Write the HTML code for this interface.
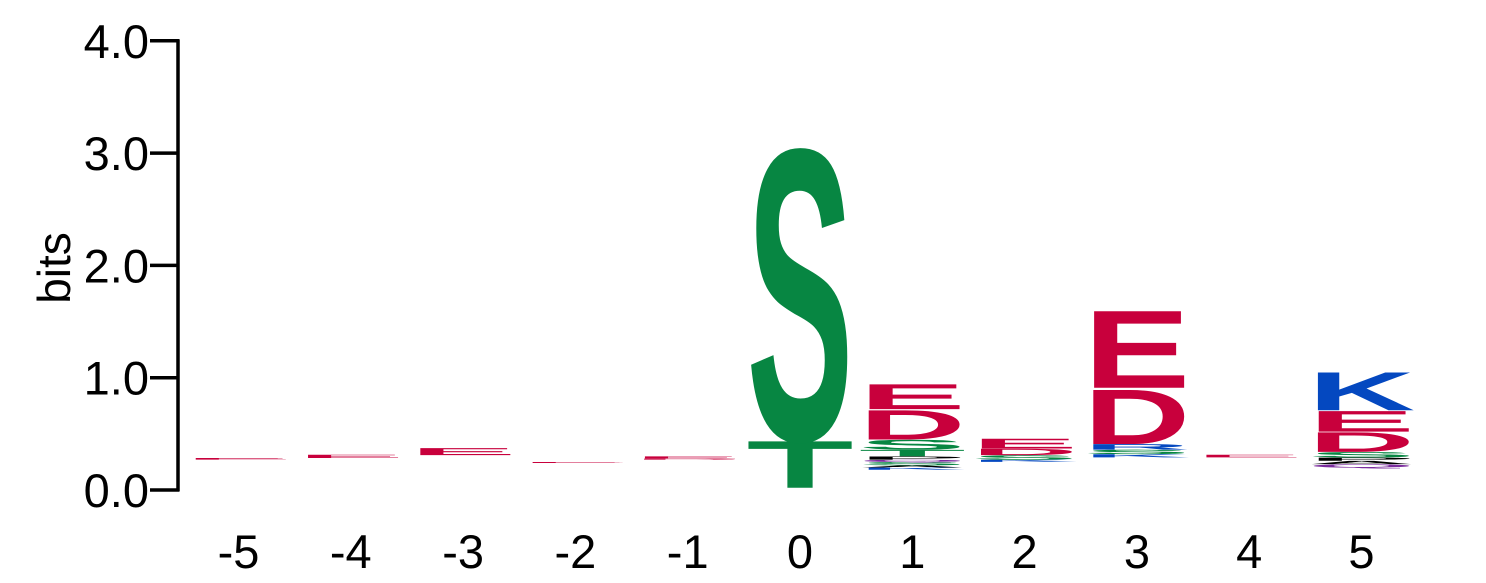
<!DOCTYPE html>
<html><head><meta charset="utf-8"><style>
html,body{margin:0;padding:0;background:#fff;}
svg{display:block;font-family:"Liberation Sans",sans-serif;}
</style></head><body>
<svg id="chart" width="1486" height="583" viewBox="0 0 1486 583" xmlns="http://www.w3.org/2000/svg">
<g id="axis"></g>
<g id="xlabels"></g>
<g id="stacks"></g>
<text x="0" y="0" font-size="46" transform="translate(70,268) rotate(-90)" text-anchor="middle">bits</text>
</svg>
<script>
const positions = [-5,-4,-3,-2,-1,0,1,2,3,4,5];
const yTicks = [0,1,2,3,4];
const yTickLabels = ["0.0","1.0","2.0","3.0","4.0"];
const bases = [0.27,0.285,0.31,0.24,0.27,0.02,0.18,0.25,0.29,0.29,0.2];
const letters = [
  ["E"],["E"],["E"],["E"],["D","E"],["T","S"],
  ["K","A","S","Q","P","T","S","D","E"],
  ["K","S","D","E"],
  ["K","S","R","D","E"],
  ["E"],
  ["Q","A","P","S","D","E","K"]
];
const heights = [
  [0.015],[0.03],[0.065],[0.01],[0.01,0.02],[0.43,2.66],
  [0.02,0.02,0.03,0.02,0.03,0.06,0.09,0.27,0.23],
  [0.02,0.04,0.06,0.09],
  [0.03,0.04,0.05,0.5,0.71],
  [0.025],
  [0.03,0.03,0.03,0.05,0.18,0.19,0.35]
];
const colors = {D:"#c8003c",E:"#c8003c",K:"#0448c0",R:"#0448c0",S:"#078642",T:"#078642",A:"#000",P:"#000",Q:"#7b2c9e"};
const NS="http://www.w3.org/2000/svg";
const y0=490, pxPerBit=112.3;
const yScale=v=>y0-v*pxPerBit;
const xCenter=p=>800+p*112.3;
const letterW=107;
const axis=document.getElementById('axis');
const ln=document.createElementNS(NS,'line');


ln.setAttribute('x1',178);ln.setAttribute('x2',178);
ln.setAttribute('y1',yScale(4)-1.5);ln.setAttribute('y2',yScale(0)+1.5);
ln.setAttribute('stroke','#000');ln.setAttribute('stroke-width','3.5');
axis.appendChild(ln);
yTicks.forEach((t,i)=>{
  const tk=document.createElementNS(NS,'line');
  
  
  tk.setAttribute('x1',150);tk.setAttribute('x2',179);
  tk.setAttribute('y1',yScale(t));tk.setAttribute('y2',yScale(t));
  tk.setAttribute('stroke','#000');tk.setAttribute('stroke-width','3.5');
  axis.appendChild(tk);
  const tx=document.createElementNS(NS,'text');
  
  
  tx.setAttribute('x',149);tx.setAttribute('y',yScale(t)+17);
  tx.setAttribute('text-anchor','end');tx.setAttribute('font-size','47');
  tx.textContent=yTickLabels[i];
  axis.appendChild(tx);
});
const xl=document.getElementById('xlabels');
positions.forEach(p=>{
  const tx=document.createElementNS(NS,'text');
  
  
  tx.setAttribute('x',xCenter(p));tx.setAttribute('y',568);
  tx.setAttribute('text-anchor','middle');tx.setAttribute('font-size','47');
  tx.textContent=String(p);
  xl.appendChild(tx);
});
const st=document.getElementById('stacks');
positions.forEach((p,ci)=>{
  let cum=bases[ci];
  const g=document.createElementNS(NS,'g');
  
  
  letters[ci].forEach((L,li)=>{
    const h=heights[ci][li];
    const bottom=yScale(cum), hp=h*pxPerBit;
    cum+=h;
    const t=document.createElementNS(NS,'text');
    
    
    t.setAttribute('x',0);t.setAttribute('y',0);
    t.setAttribute('font-size','100');t.setAttribute('font-weight','bold');
    t.setAttribute('textLength',letterW);
    t.setAttribute('lengthAdjust','spacingAndGlyphs');
    t.setAttribute('fill',colors[L]||'#000');
    t.setAttribute('transform','translate('+(xCenter(p)-letterW/2)+','+bottom+') scale(1,'+(hp/71.6)+')');
    t.textContent=L;
    g.appendChild(t);
  });
  st.appendChild(g);
});
</script>
</body></html>
